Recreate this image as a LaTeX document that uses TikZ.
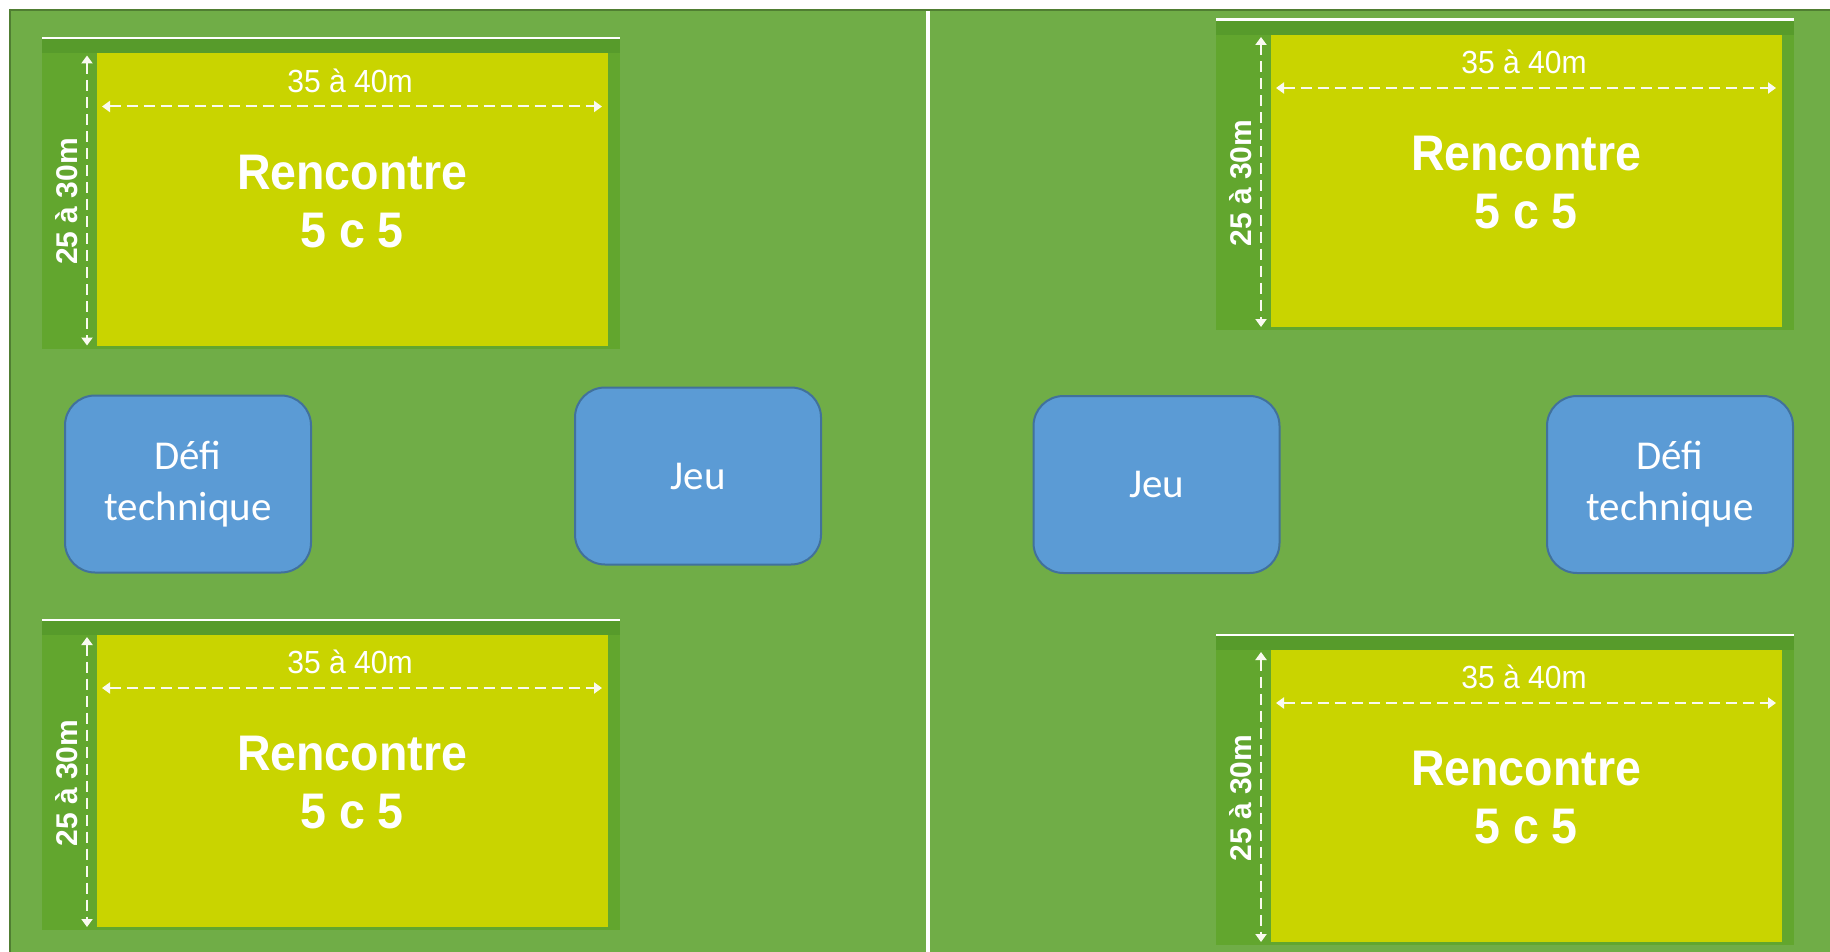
\documentclass[tikz,border=0pt]{standalone}
\usepackage{fontspec}
\setmainfont{Carlito}
\newfontfamily\arialf{Liberation Sans}
\usetikzlibrary{arrows.meta}
\definecolor{bggreen}{HTML}{70AD47}
\definecolor{framegreen}{HTML}{62A62E}
\definecolor{stripgreen}{HTML}{579B2B}
\definecolor{pitchyellow}{HTML}{C9D400}
\definecolor{boxblue}{HTML}{5B9BD5}
\definecolor{boxedge}{HTML}{41719C}
\definecolor{edgegreen}{HTML}{507E32}
\definecolor{dimwhite}{HTML}{FAFAF0}

\tikzset{
  pitchbox/.style={fill=pitchyellow, draw=none, inner sep=0pt, minimum width=511pt, minimum height=292pt},
  dimarrow/.style={draw=dimwhite, line width=2pt, dash pattern=on 11pt off 6pt,
     {Triangle[width=11pt,length=8pt]}-{Triangle[width=11pt,length=8pt]}},
  dimtext/.style={text=white, inner sep=0pt, font=\arialf\fontsize{32pt}{36pt}\selectfont},
  dimvtext/.style={text=white, inner sep=0pt, font=\arialf\bfseries\fontsize{30pt}{34pt}\selectfont},
  titletext/.style={text=white, inner sep=0pt, font=\arialf\bfseries\fontsize{50pt}{58pt}\selectfont},
  bluebox/.style={rectangle, rounded corners=30pt, fill=boxblue, draw=boxedge, line width=2pt,
     minimum width=246pt, minimum height=177pt, align=center, text=white, inner sep=0pt,
     font=\fontsize{41pt}{51pt}\selectfont}
}

\newcommand\drawpitch[3]{%
 \begin{scope}[shift={(#1,#2)}]
  \fill[white] (0,-1.5) rectangle (578,1);
  \fill[framegreen] (0,1) rectangle (578,310);
  \fill[stripgreen] (0,1) rectangle (578,15);
  \node[pitchbox] (#3) at (310.5,161) {};
  \coordinate (#3-vt) at (45,17);
  \coordinate (#3-vb) at (45,307);
  \coordinate (#3-hl) at (60,68);
  \coordinate (#3-hr) at (560,68);
  \draw[dimarrow] (#3-vt) -- (#3-vb);
  \draw[dimarrow] (#3-hl) -- (#3-hr);
  \node[dimtext] (#3-w) at (308,42) {\scalebox{0.94}[1]{35 à 40m}};
  \node[dimvtext, rotate=90] (#3-h) at (25,163) {25 à 30m};
  \node[titletext] (#3-t1) at (310,134) {\scalebox{0.93}[1]{Rencontre}};
  \node[titletext] (#3-t2) at (310,192) {\scalebox{0.93}[1]{5 c 5}};
 \end{scope}}

\begin{document}
\begin{tikzpicture}[x=1pt, y=-1pt]
\useasboundingbox (0,0) rectangle (1830,952);
\fill[white] (0,0) rectangle (1830,952);
\fill[bggreen] (9,9) rectangle (926,952);
\fill[bggreen] (930,9) rectangle (1830,952);
\draw[edgegreen, line width=2pt] (9,10) -- (1830,10);
\draw[edgegreen, line width=1.5pt] (9.75,9) -- (9.75,952);

\drawpitch{42}{38.5}{pitchLT}
\drawpitch{42}{620}{pitchLB}
\drawpitch{1216}{20}{pitchRT}
\drawpitch{1216}{635}{pitchRB}

\node[bluebox] (defiL) at (188,484) {Défi\\technique};
\node[bluebox] (jeuL) at (698,476) {Jeu};
\node[bluebox] (jeuR) at (1156.5,484.5) {Jeu};
\node[bluebox] (defiR) at (1670,484.5) {Défi\\technique};
\end{tikzpicture}
\end{document}
